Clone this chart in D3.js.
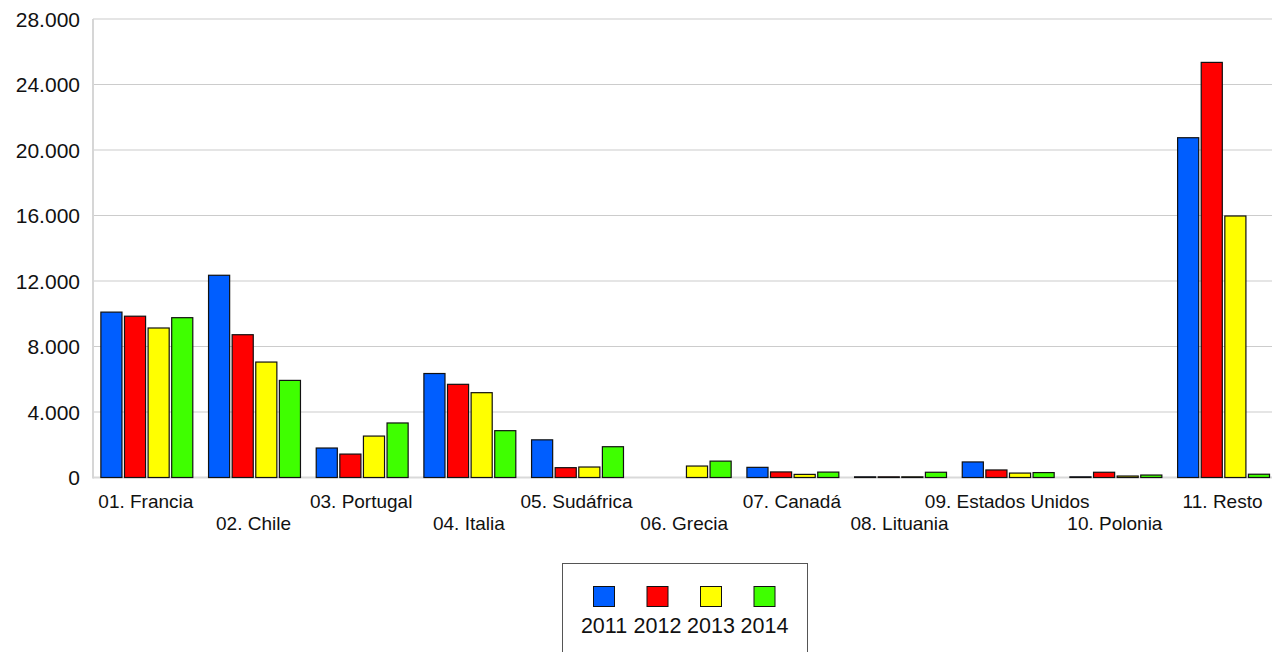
<!DOCTYPE html>
<html>
<head>
<meta charset="utf-8">
<script src="https://cdn.jsdelivr.net/npm/d3@7"></script>
<style>
  html, body { margin: 0; padding: 0; background: #fff; }
  svg { display: block; font-family: "Liberation Sans", Arial, sans-serif; }
</style>
</head>
<body>
<svg width="1272" height="652"></svg>
<script>
// data
const categories = ["01. Francia", "02. Chile", "03. Portugal", "04. Italia", "05. Sudáfrica",
  "06. Grecia", "07. Canadá", "08. Lituania", "09. Estados Unidos", "10. Polonia", "11. Resto"];
const years = ["2011", "2012", "2013", "2014"];
const v2011 = [10100, 12350, 1800, 6350, 2300, null, 620, 40, 950, 40, 20750];
const v2012 = [9850, 8720, 1430, 5690, 600, null, 340, 40, 460, 320, 25350];
const v2013 = [9130, 7050, 2530, 5180, 640, 700, 190, 40, 270, 90, 15970];
const v2014 = [9760, 5930, 3330, 2860, 1880, 1000, 330, 320, 300, 150, 200];
const yTicks = [0, 4000, 8000, 12000, 16000, 20000, 24000, 28000];
const colors = ["#005eff", "#ff0000", "#ffff00", "#3fff00"];

const series = [v2011, v2012, v2013, v2014];
const svg = d3.select("svg");

const x0 = d3.scaleBand().domain(categories).range([93, 1277.4]).padding(0);
const x1 = d3.scaleBand().domain(years).range([0, x0.bandwidth()])
    .paddingInner(0.064).paddingOuter(0.3125);
const y = d3.scaleLinear().domain([0, 28000]).range([477.5, 19]);

const loc = d3.formatLocale({ decimal: ",", thousands: ".", grouping: [3], currency: ["", ""] });
const fmt = loc.format(",");

// grid
svg.append("g")
    .selectAll("line")
    .data(yTicks)
    .join("line")
    .attr("x1", 93).attr("x2", 1272)
    .attr("y1", d => y(d)).attr("y2", d => y(d))
    .attr("stroke", d => d === 0 ? "#d9d9d9" : "#cccccc")
    .attr("stroke-width", d => d === 0 ? 2 : 1.2);

svg.append("line")
    .attr("x1", 93).attr("x2", 93)
    .attr("y1", y(28000)).attr("y2", y(0) + 1)
    .attr("stroke", "#d6d6d6").attr("stroke-width", 2);

// y labels
svg.append("g")
    .selectAll("text")
    .data(yTicks)
    .join("text")
    .attr("x", 80)
    .attr("y", d => y(d) + 7.5)
    .attr("text-anchor", "end")
    .attr("font-size", 21)
    .attr("fill", "#111")
    .text(d => fmt(d));

// bars
const groups = svg.append("g")
    .selectAll("g")
    .data(categories)
    .join("g")
    .attr("transform", d => `translate(${x0(d)},0)`);

groups.selectAll("rect")
    .data((c, i) => years.map((yr, k) => ({ yr, k, v: series[k][i] })).filter(d => d.v != null))
    .join("rect")
    .attr("x", d => x1(d.yr) + 0.5)
    .attr("width", x1.bandwidth() - 1)
    .attr("y", d => y(d.v))
    .attr("height", d => Math.max(0.5, y(0) - y(d.v)))
    .attr("fill", d => colors[d.k])
    .attr("stroke", "#111")
    .attr("stroke-width", 1.2);

// x labels, alternating rows
svg.append("g")
    .selectAll("text")
    .data(categories)
    .join("text")
    .attr("x", d => x0(d) + x0.bandwidth() / 2 - 1)
    .attr("y", (d, i) => i % 2 === 0 ? 508 : 530)
    .attr("text-anchor", "middle")
    .attr("font-size", 19)
    .attr("fill", "#111")
    .text(d => d);

// legend
const legend = svg.append("g");
legend.append("rect")
    .attr("x", 562.5).attr("y", 563.5)
    .attr("width", 245).attr("height", 100)
    .attr("fill", "#fff").attr("stroke", "#555").attr("stroke-width", 1);

const lx = d3.scalePoint().domain(years).range([604, 764.5]);
legend.selectAll("rect.sw")
    .data(years)
    .join("rect")
    .attr("class", "sw")
    .attr("x", d => lx(d) - 10.5)
    .attr("y", 586.5)
    .attr("width", 21).attr("height", 20)
    .attr("fill", (d, i) => colors[i])
    .attr("stroke", "#111").attr("stroke-width", 1);

legend.selectAll("text")
    .data(years)
    .join("text")
    .attr("x", d => lx(d))
    .attr("y", 633)
    .attr("text-anchor", "middle")
    .attr("font-size", 21.5)
    .attr("fill", "#111")
    .text(d => d);
</script>
</body>
</html>
